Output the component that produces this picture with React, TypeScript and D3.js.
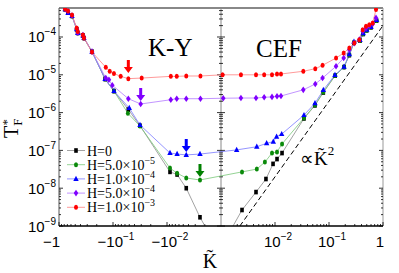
import React from "react";
import * as d3 from "d3";

// K-tilde (negative side plotted on the left panel) and T_F^* for each field
const kH0 = [-0.77, -0.68, -0.574, -0.47, -0.45, -0.36, -0.345, -0.245, -0.14, -0.096, -0.052, -0.0316, -0.0088, -0.0065, -0.0044, -0.00245, -0.0012, 0.0012, 0.00245, 0.00445, 0.0068, 0.0092, 0.0109, 0.0135, 0.0344, 0.055, 0.0785, 0.13, 0.19, 0.238, 0.29, 0.375, 0.43, 0.5, 0.6, 0.76];
const tH0 = [5.4e-4, 4.6e-4, 3.6e-4, 1.6e-4, 1.28e-4, 1.1e-4, 9.4e-5, 4.1e-5, 7.7e-6, 3.7e-6, 1.2e-6, 4.5e-7, 2.7e-8, 2.3e-8, 1.0e-8, 1.7e-9, 2.8e-10, 4.3e-10, 2.65e-9, 7.9e-9, 1.75e-8, 4.4e-8, 5.9e-8, 8.5e-8, 7.0e-7, 1.55e-6, 3.4e-6, 9.5e-6, 1.6e-5, 3.3e-5, 7.0e-5, 8.0e-5, 1.2e-4, 1.5e-4, 1.8e-4, 2.7e-4];

const kH5e5 = [-0.77, -0.68, -0.574, -0.47, -0.45, -0.36, -0.345, -0.245, -0.14, -0.096, -0.053, -0.0316, -0.0088, -0.0065, -0.0044, -0.00245, 0.00245, 0.0046, 0.0065, 0.0088, 0.0109, 0.0135, 0.0344, 0.055, 0.0785, 0.13, 0.19, 0.238, 0.29, 0.375, 0.43, 0.5, 0.6, 0.76];
const tH5e5 = [5.4e-4, 4.6e-4, 3.6e-4, 1.6e-4, 1.28e-4, 1.1e-4, 9.4e-5, 4.1e-5, 7.7e-6, 3.7e-6, 9.6e-7, 4.4e-7, 3.4e-8, 2.5e-8, 1.86e-8, 1.65e-8, 2.7e-8, 3.2e-8, 4.9e-8, 8.5e-8, 9.1e-8, 1.48e-7, 7.2e-7, 1.59e-6, 3.5e-6, 9.6e-6, 1.6e-5, 3.4e-5, 7.2e-5, 8.1e-5, 1.22e-4, 1.5e-4, 1.8e-4, 2.75e-4];

const kH1e4 = [-0.77, -0.68, -0.574, -0.47, -0.45, -0.36, -0.345, -0.245, -0.14, -0.096, -0.05, -0.0316, -0.0088, -0.0065, -0.0044, -0.00245, 0.00195, 0.0046, 0.007, 0.0093, 0.0107, 0.0133, 0.0344, 0.055, 0.0785, 0.129, 0.19, 0.238, 0.29, 0.375, 0.43, 0.5, 0.6, 0.76];
const tH1e4 = [5.4e-4, 4.3e-4, 3.6e-4, 1.6e-4, 1.28e-4, 1.1e-4, 9.4e-5, 4.1e-5, 7.7e-6, 3.7e-6, 1.32e-6, 4.7e-7, 8.5e-8, 8.0e-8, 7.6e-8, 8.0e-8, 1.03e-7, 1.25e-7, 1.54e-7, 1.7e-7, 2.3e-7, 2.7e-7, 8.6e-7, 1.76e-6, 3.96e-6, 9.9e-6, 1.64e-5, 3.5e-5, 7.5e-5, 8.3e-5, 1.25e-4, 1.55e-4, 1.85e-4, 2.8e-4];

const kH5e4 = [-0.77, -0.68, -0.574, -0.47, -0.45, -0.36, -0.345, -0.245, -0.136, -0.119, -0.103, -0.052, -0.0307, -0.0085, -0.0066, -0.0044, -0.0024, 0.0011, 0.00234, 0.00445, 0.0063, 0.0088, 0.0109, 0.0129, 0.0334, 0.0557, 0.076, 0.135, 0.187, 0.238, 0.294, 0.364, 0.421, 0.484, 0.557, 0.644, 0.742];
const tH5e4 = [5.4e-4, 4.8e-4, 3.7e-4, 1.65e-4, 1.3e-4, 1.12e-4, 9.6e-5, 4.1e-5, 8.2e-6, 7.4e-6, 5.3e-6, 2.33e-6, 1.69e-6, 2.19e-6, 2.33e-6, 2.33e-6, 2.33e-6, 2.4e-6, 2.43e-6, 2.43e-6, 2.54e-6, 2.6e-6, 2.7e-6, 2.75e-6, 4.0e-6, 5.7e-6, 8.2e-6, 1.68e-5, 2.78e-5, 4.6e-5, 6.9e-5, 8.5e-5, 1.42e-4, 1.7e-4, 1.95e-4, 2.2e-4, 3.2e-4];

const kH1e3 = [-0.77, -0.68, -0.574, -0.47, -0.45, -0.36, -0.345, -0.245, -0.136, -0.115, -0.096, -0.072, -0.052, -0.0294, -0.0085, -0.0066, -0.0044, -0.0024, 0.00107, 0.00234, 0.00445, 0.0063, 0.0088, 0.0109, 0.0129, 0.0334, 0.0557, 0.076, 0.135, 0.187, 0.238, 0.294, 0.364, 0.421, 0.484, 0.557, 0.644, 0.742];
const tH1e3 = [5.5e-4, 4.9e-4, 3.8e-4, 1.73e-4, 1.4e-4, 1.13e-4, 9.4e-5, 4.0e-5, 1.58e-5, 1.24e-5, 1.08e-5, 9.1e-6, 7.9e-6, 8.2e-6, 9.1e-6, 9.1e-6, 9.3e-6, 9.3e-6, 1.0e-5, 1.0e-5, 1.0e-5, 1.0e-5, 1.0e-5, 1.05e-5, 1.05e-5, 1.24e-5, 1.45e-5, 1.78e-5, 2.78e-5, 3.77e-5, 5.1e-5, 6.9e-5, 8.5e-5, 1.56e-4, 1.92e-4, 2.1e-4, 2.35e-4, 5.3e-4];

// K^2 guide line
const guideK = [0.0015, 1];
const guideT = [4.5e-10, 2e-4];

// arrows marking the minima
const arrowK = [-0.052, -0.0307, -0.0044, -0.00245];
const arrowT = [1.12e-5, 2.03e-6, 9.1e-8, 1.98e-8];
const arrowColors = ["#ff0000", "#8000ff", "#0000ff", "#008000"];

const legendBase = ["H=0", "H=5.0×10", "H=1.0×10", "H=5.0×10", "H=1.0×10"];
const legendExp = ["", "−5", "−4", "−4", "−3"];

const yTickExp = [-9, -8, -7, -6, -5, -4];
const xTickVals = [-1, -0.1, -0.01, 0.01, 0.1, 1];
const xTickBase = ["−1", "−10", "−10", "10", "10", "1"];
const xTickExp = ["", "−1", "−2", "−2", "−1", ""];

const series = [
  { k: kH0, t: tH0, shape: "square", color: "#000000", line: "#8c8c8c" },
  { k: kH5e5, t: tH5e5, shape: "circle", color: "#0a8a0a", line: "#78c878" },
  { k: kH1e4, t: tH1e4, shape: "triangle", color: "#0000ff", line: "#7a7aff" },
  { k: kH5e4, t: tH5e4, shape: "diamond", color: "#8000ff", line: "#b27aff" },
  { k: kH1e3, t: tH1e3, shape: "circle", color: "#ff0000", line: "#ff8080" },
];

const X0 = 59, XM = 221, X1 = 383, Y0 = 8, Y1 = 226;
const xLeft = d3.scaleLog().domain([1, 1e-3]).range([X0, XM]);
const xRight = d3.scaleLog().domain([1e-3, 1]).range([XM, X1]);
const xPos = (k: number) => (k < 0 ? xLeft(-k) : xRight(k));
const y = d3.scaleLog().domain([1e-9, 5.85e-4]).range([Y1, Y0]);

const serif = "Liberation Serif, Times New Roman, serif";
const sans = "Liberation Sans, Arial, sans-serif";

function Marker({ shape, x, y, color }: { shape: string; x: number; y: number; color: string }) {
  if (shape === "square") return <rect x={x - 1.8} y={y - 2.3} width={3.6} height={4.6} fill={color} />;
  if (shape === "circle") return <ellipse cx={x} cy={y} rx={2} ry={2.5} fill={color} />;
  if (shape === "triangle")
    return <path d={`M${x},${y - 3.2}L${x + 2.7},${y + 2}L${x - 2.7},${y + 2}Z`} fill={color} />;
  return <path d={`M${x},${y - 3.3}L${x + 2.3},${y}L${x},${y + 3.3}L${x - 2.3},${y}Z`} fill={color} />;
}

export default function App() {
  const pathFor = (k: number[], t: number[]) =>
    d3
      .line<number>()
      .x((d) => xPos(d))
      .y((_, i) => y(t[i]))(k) || "";

  // y ticks (major + minor)
  const yMinor: number[] = [];
  yTickExp.forEach((e) => {
    for (let m = 2; m <= 9; m++) {
      const v = m * Math.pow(10, e);
      if (v <= 5.85e-4) yMinor.push(v);
    }
  });
  const yMajor = yTickExp.map((e) => Math.pow(10, e));

  // x ticks
  const xMinor: number[] = [];
  [-3, -2, -1].forEach((e) => {
    for (let m = 2; m <= 9; m++) {
      xMinor.push(-m * Math.pow(10, e));
      xMinor.push(m * Math.pow(10, e));
    }
  });

  const yTicks = (xa: number, dir: number, both: boolean) => (
    <g stroke="#000" strokeWidth={0.8}>
      {yMajor.map((v) => (
        <line key={"M" + v} x1={both ? xa - 4 : xa} x2={xa + 4 * dir} y1={y(v)} y2={y(v)} />
      ))}
      {yMinor.map((v) => (
        <line key={"m" + v} x1={both ? xa - 2 : xa} x2={xa + 2 * dir} y1={y(v)} y2={y(v)} />
      ))}
    </g>
  );

  return (
    <svg width={399} height={273} style={{ position: "absolute", left: 0, top: 0, background: "#fff" }}>
      <defs>
        <clipPath id="plotArea">
          <rect x={X0} y={Y0} width={X1 - X0} height={Y1 - Y0} />
        </clipPath>
      </defs>

      {/* frame */}
      <line x1={X0} x2={X1} y1={Y0} y2={Y0} stroke="#888" strokeWidth={2} />
      <line x1={X1} x2={X1} y1={Y0} y2={Y1} stroke="#999" strokeWidth={1} />
      <line x1={XM} x2={XM} y1={Y0} y2={Y1} stroke="#888" strokeWidth={1} />
      <line x1={X0} x2={X0} y1={Y0} y2={Y1} stroke="#555" strokeWidth={1} />
      {yTicks(X0, 1, false)}
      {yTicks(XM, 1, true)}
      {yTicks(X1, -1, false)}

      {/* x ticks */}
      <g stroke="#000" strokeWidth={0.8}>
        {xTickVals.map((v) => (
          <line key={"xM" + v} x1={xPos(v)} x2={xPos(v)} y1={Y1} y2={Y1 - 4} />
        ))}
        {xMinor.map((v) => (
          <line key={"xm" + v} x1={xPos(v)} x2={xPos(v)} y1={Y1} y2={Y1 - 2} />
        ))}
      </g>

      {/* data */}
      <g clipPath="url(#plotArea)">
        <path
          d={d3.line<number>().x((d) => xRight(d)).y((_, i) => y(guideT[i]))(guideK) || ""}
          fill="none"
          stroke="#000"
          strokeWidth={1}
          strokeDasharray="5,3"
        />
        {series.map((s, i) => (
          <path key={"l" + i} d={pathFor(s.k, s.t)} fill="none" stroke={s.line} strokeWidth={0.8} />
        ))}
        {series.map((s, i) => (
          <g key={"m" + i}>
            {s.k.map((k, j) => (
              <Marker key={j} shape={s.shape} x={xPos(k)} y={y(s.t[j])} color={s.color} />
            ))}
          </g>
        ))}
        {arrowK.map((k, i) => {
          const tx = xPos(k);
          const ty = y(arrowT[i]);
          return (
            <path
              key={"a" + i}
              d={`M${tx - 1.5},${ty - 13}L${tx + 1.5},${ty - 13}L${tx + 1.5},${ty - 6}L${tx + 4.5},${ty - 6}L${tx},${ty}L${tx - 4.5},${ty - 6}L${tx - 1.5},${ty - 6}Z`}
              fill={arrowColors[i]}
            />
          );
        })}
      </g>

      <line x1={X0} x2={X1} y1={Y1} y2={Y1} stroke="#000" strokeWidth={1.3} />

      {/* tick labels */}
      <g fontFamily={sans} fill="#000">
        {yTickExp.map((e) => (
          <text key={e} x={56} y={y(Math.pow(10, e)) + 5.5} textAnchor="end" fontSize={15}>
            10
            <tspan fontSize={10} dy={-7}>
              {"−" + Math.abs(e)}
            </tspan>
          </text>
        ))}
        {xTickVals.map((v, i) =>
          xTickExp[i] === "" ? (
            <text key={v} x={xPos(v) + 1} y={247} textAnchor="end" fontSize={15}>
              {xTickBase[i]}
            </text>
          ) : (
            <text key={v} x={xPos(v) + 3} y={247} textAnchor="middle" fontSize={15}>
              {xTickBase[i]}
              <tspan fontSize={10} dy={-7}>
                {xTickExp[i]}
              </tspan>
            </text>
          )
        )}
      </g>

      {/* axis labels */}
      <text transform="translate(18,138) rotate(-90)" fontFamily={serif} fontSize={20}>
        T
        <tspan fontSize={13} dy={4}>
          F
        </tspan>
        <tspan fontSize={13} dx={-7} dy={-11}>
          *
        </tspan>
      </text>
      <text x={210} y={268} textAnchor="middle" fontFamily={serif} fontSize={20}>
        {"K\u0303"}
      </text>

      {/* panel titles */}
      <text x={148} y={56} fontFamily={serif} fontSize={25}>
        K-Y
      </text>
      <text x={256} y={57} fontFamily={serif} fontSize={25}>
        CEF
      </text>
      <text x={300} y={165} fontFamily={serif} fontSize={19}>
        {"∝K\u0303"}
        <tspan fontSize={13} dy={-10}>
          2
        </tspan>
      </text>

      {/* legend */}
      <g fontFamily={serif} fontSize={14}>
        {series.map((s, i) => {
          const ly = 150.5 + i * 14.2;
          return (
            <g key={"lg" + i}>
              <line x1={67} x2={85} y1={ly} y2={ly} stroke={s.line} strokeWidth={0.8} />
              <Marker shape={s.shape} x={76} y={ly} color={s.color} />
              <text x={87} y={ly + 5}>
                {legendBase[i]}
                {legendExp[i] && (
                  <tspan fontSize={10} dy={-6}>
                    {legendExp[i]}
                  </tspan>
                )}
              </text>
            </g>
          );
        })}
      </g>
    </svg>
  );
}
